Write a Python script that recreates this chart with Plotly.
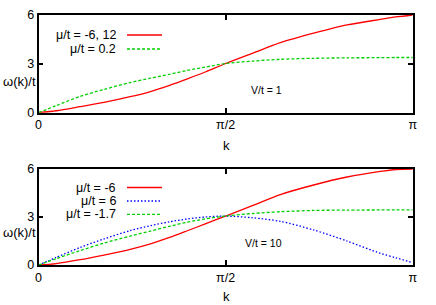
import math
import plotly.graph_objects as go

PI = math.pi
# k sample points (radians)
K = [0, 0.15, 0.35, 0.55, 0.77, 0.94, 1.1, 1.25, 1.40, 1.571, 1.80, 2.03, 2.31, 2.59, 2.87, 3.0, PI]

# Top panel, V/t = 1
top_red = [0, 0.12, 0.37, 0.63, 0.98, 1.30, 1.68, 2.08, 2.50, 3.02, 3.66, 4.30, 4.88, 5.39, 5.73, 5.88, 6.0]
top_green = [0, 0.44, 1.0, 1.43, 1.85, 2.12, 2.36, 2.6, 2.8, 3.02, 3.17, 3.28, 3.34, 3.37, 3.38, 3.39, 3.39]

# Bottom panel, V/t = 10
bot_red = [0, 0.09, 0.33, 0.62, 0.98, 1.32, 1.72, 2.14, 2.57, 3.06, 3.72, 4.40, 5.0, 5.5, 5.85, 5.97, 6.0]
bot_blue = [0, 0.48, 1.1, 1.63, 2.15, 2.46, 2.7, 2.88, 3.0, 3.06, 2.95, 2.73, 2.19, 1.5, 0.73, 0.45, 0.15]
bot_green = [0, 0.4, 0.9, 1.37, 1.81, 2.12, 2.42, 2.68, 2.88, 3.06, 3.22, 3.33, 3.41, 3.43, 3.44, 3.44, 3.44]

x_tickvals = [0, PI / 2, PI]
x_ticktext = ["0", "\u03c0/2", "\u03c0"]
y_tickvals = [0, 3, 6]
y_ticktext = ["0", "3", "6"]

top_labels = ["\u03bc/t = -6, 12", "\u03bc/t = 0.2"]
bot_labels = ["\u03bc/t = -6", "\u03bc/t = 6", "\u03bc/t = -1.7"]

RED = "#ff0000"
GREEN = "#00d000"
BLUE = "#0000ff"
FONT = "Liberation Sans, Arial, sans-serif"

W, H = 436, 305
def px(x):
    return x / W
def py(y):
    return 1 - y / H

fig = go.Figure()
lw = 1.3
fig.add_trace(go.Scatter(x=K, y=top_red, xaxis="x", yaxis="y", mode="lines",
                         line=dict(color=RED, width=lw, shape="spline", smoothing=0.8)))
fig.add_trace(go.Scatter(x=K, y=top_green, xaxis="x", yaxis="y", mode="lines",
                         line=dict(color=GREEN, width=lw, dash="3px,2px", shape="spline", smoothing=0.8)))
fig.add_trace(go.Scatter(x=K, y=bot_red, xaxis="x2", yaxis="y2", mode="lines",
                         line=dict(color=RED, width=lw, shape="spline", smoothing=0.8)))
fig.add_trace(go.Scatter(x=K, y=bot_blue, xaxis="x2", yaxis="y2", mode="lines",
                         line=dict(color=BLUE, width=lw, dash="1.5px,2px", shape="spline", smoothing=0.8)))
fig.add_trace(go.Scatter(x=K, y=bot_green, xaxis="x2", yaxis="y2", mode="lines",
                         line=dict(color=GREEN, width=lw, dash="3px,2px", shape="spline", smoothing=0.8)))

xdom = [px(38.5), px(412.7)]
common_x = dict(range=[0, PI], tickvals=x_tickvals, ticktext=x_ticktext, ticks="inside",
                ticklen=5, tickwidth=1.5, tickcolor="black", showline=True, linecolor="black",
                linewidth=1.5, mirror="ticks", showgrid=False, zeroline=False, automargin=False,
                tickfont=dict(family=FONT, size=12.5, color="black"), domain=xdom)
common_y = dict(range=[0, 6], tickvals=y_tickvals, ticktext=y_ticktext, ticks="inside",
                ticklen=5, tickwidth=1.5, tickcolor="black", showline=True, linecolor="black",
                linewidth=1.5, mirror="ticks", showgrid=False, zeroline=False, automargin=False,
                tickfont=dict(family=FONT, size=12.5, color="black"))

fig.update_layout(
    width=W, height=H, margin=dict(l=0, r=0, t=0, b=0, autoexpand=False),
    paper_bgcolor="white", plot_bgcolor="white", showlegend=False,
    xaxis=dict(common_x, anchor="y"),
    yaxis=dict(common_y, anchor="x", domain=[py(112.7), py(15)]),
    xaxis2=dict(common_x, anchor="y2"),
    yaxis2=dict(common_y, anchor="x2", domain=[py(265), py(169)]),
)

ann = []
def text(x, y, s, size=13, xanchor="center"):
    ann.append(dict(x=px(x), y=py(y), xref="paper", yref="paper", text=s, showarrow=False,
                    xanchor=xanchor, yanchor="middle", font=dict(family=FONT, size=size, color="black")))

text(226, 145.5, "k")
text(226, 296.5, "k")
text(19, 81, "\u03c9(k)/t")
text(19, 232.7, "\u03c9(k)/t")
text(266.7, 90, "V/t = 1", size=10.5)
text(263, 243.3, "V/t = 10", size=10.5)

shapes = []
def legend_entry(y, label, color, dash):
    text(118, y, label, size=12.5, xanchor="right")
    shapes.append(dict(type="line", xref="paper", yref="paper", x0=px(127), x1=px(162),
                       y0=py(y), y1=py(y), line=dict(color=color, width=lw, dash=dash)))

legend_entry(35, top_labels[0], RED, "solid")
legend_entry(49, top_labels[1], GREEN, "3px,2px")
legend_entry(187.5, bot_labels[0], RED, "solid")
legend_entry(201.0, bot_labels[1], BLUE, "1.5px,2px")
legend_entry(214.3, bot_labels[2], GREEN, "3px,2px")

fig.update_layout(annotations=ann, shapes=shapes)
fig.write_html("out.html", config={"displayModeBar": False},
               post_script="document.body.style.margin='0';document.body.style.overflow='hidden';")
